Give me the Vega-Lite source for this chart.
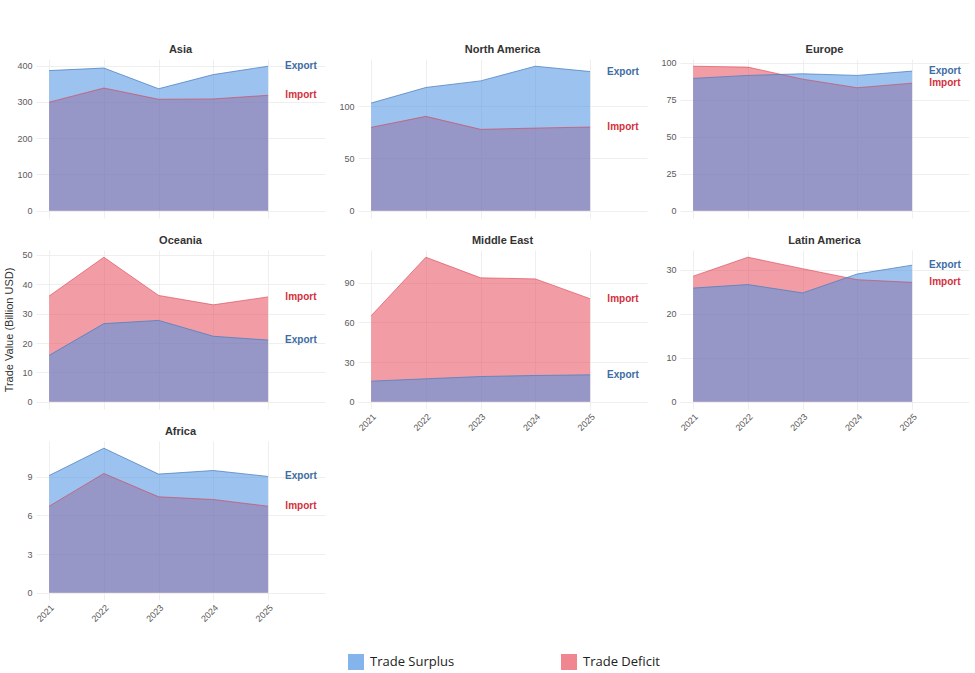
{
  "$schema": "https://vega.github.io/schema/vega-lite/v6.json",
  "padding": {"left": 3, "top": 43, "right": 5, "bottom": 5},
  "background": "white",
  "data": {"values": [
    {"region": "Asia", "year": 2021, "flow": "Export", "value": 386},
    {"region": "Asia", "year": 2022, "flow": "Export", "value": 393},
    {"region": "Asia", "year": 2023, "flow": "Export", "value": 336},
    {"region": "Asia", "year": 2024, "flow": "Export", "value": 375},
    {"region": "Asia", "year": 2025, "flow": "Export", "value": 398},
    {"region": "Asia", "year": 2021, "flow": "Import", "value": 299},
    {"region": "Asia", "year": 2022, "flow": "Import", "value": 338},
    {"region": "Asia", "year": 2023, "flow": "Import", "value": 307},
    {"region": "Asia", "year": 2024, "flow": "Import", "value": 308},
    {"region": "Asia", "year": 2025, "flow": "Import", "value": 318},
    {"region": "North America", "year": 2021, "flow": "Export", "value": 102.9},
    {"region": "North America", "year": 2022, "flow": "Export", "value": 117.8},
    {"region": "North America", "year": 2023, "flow": "Export", "value": 124.1},
    {"region": "North America", "year": 2024, "flow": "Export", "value": 138.1},
    {"region": "North America", "year": 2025, "flow": "Export", "value": 133.0},
    {"region": "North America", "year": 2021, "flow": "Import", "value": 79.7},
    {"region": "North America", "year": 2022, "flow": "Import", "value": 90.2},
    {"region": "North America", "year": 2023, "flow": "Import", "value": 77.8},
    {"region": "North America", "year": 2024, "flow": "Import", "value": 79.0},
    {"region": "North America", "year": 2025, "flow": "Import", "value": 80.0},
    {"region": "Europe", "year": 2021, "flow": "Export", "value": 89.3},
    {"region": "Europe", "year": 2022, "flow": "Export", "value": 91.3},
    {"region": "Europe", "year": 2023, "flow": "Export", "value": 92.4},
    {"region": "Europe", "year": 2024, "flow": "Export", "value": 91.3},
    {"region": "Europe", "year": 2025, "flow": "Export", "value": 94.2},
    {"region": "Europe", "year": 2021, "flow": "Import", "value": 97.5},
    {"region": "Europe", "year": 2022, "flow": "Import", "value": 96.9},
    {"region": "Europe", "year": 2023, "flow": "Import", "value": 88.8},
    {"region": "Europe", "year": 2024, "flow": "Import", "value": 83.0},
    {"region": "Europe", "year": 2025, "flow": "Import", "value": 86.1},
    {"region": "Oceania", "year": 2021, "flow": "Export", "value": 15.8},
    {"region": "Oceania", "year": 2022, "flow": "Export", "value": 26.6},
    {"region": "Oceania", "year": 2023, "flow": "Export", "value": 27.7},
    {"region": "Oceania", "year": 2024, "flow": "Export", "value": 22.3},
    {"region": "Oceania", "year": 2025, "flow": "Export", "value": 21.0},
    {"region": "Oceania", "year": 2021, "flow": "Import", "value": 36.0},
    {"region": "Oceania", "year": 2022, "flow": "Import", "value": 49.2},
    {"region": "Oceania", "year": 2023, "flow": "Import", "value": 36.2},
    {"region": "Oceania", "year": 2024, "flow": "Import", "value": 33.0},
    {"region": "Oceania", "year": 2025, "flow": "Import", "value": 35.7},
    {"region": "Middle East", "year": 2021, "flow": "Export", "value": 15.6},
    {"region": "Middle East", "year": 2022, "flow": "Export", "value": 17.4},
    {"region": "Middle East", "year": 2023, "flow": "Export", "value": 19.1},
    {"region": "Middle East", "year": 2024, "flow": "Export", "value": 19.9},
    {"region": "Middle East", "year": 2025, "flow": "Export", "value": 20.4},
    {"region": "Middle East", "year": 2021, "flow": "Import", "value": 65.1},
    {"region": "Middle East", "year": 2022, "flow": "Import", "value": 109.4},
    {"region": "Middle East", "year": 2023, "flow": "Import", "value": 93.8},
    {"region": "Middle East", "year": 2024, "flow": "Import", "value": 93.0},
    {"region": "Middle East", "year": 2025, "flow": "Import", "value": 78.0},
    {"region": "Latin America", "year": 2021, "flow": "Export", "value": 25.8},
    {"region": "Latin America", "year": 2022, "flow": "Export", "value": 26.6},
    {"region": "Latin America", "year": 2023, "flow": "Export", "value": 24.7},
    {"region": "Latin America", "year": 2024, "flow": "Export", "value": 29.0},
    {"region": "Latin America", "year": 2025, "flow": "Export", "value": 31.0},
    {"region": "Latin America", "year": 2021, "flow": "Import", "value": 28.5},
    {"region": "Latin America", "year": 2022, "flow": "Import", "value": 32.8},
    {"region": "Latin America", "year": 2023, "flow": "Import", "value": 30.2},
    {"region": "Latin America", "year": 2024, "flow": "Import", "value": 27.7},
    {"region": "Latin America", "year": 2025, "flow": "Import", "value": 27.1},
    {"region": "Africa", "year": 2021, "flow": "Export", "value": 9.1},
    {"region": "Africa", "year": 2022, "flow": "Export", "value": 11.22},
    {"region": "Africa", "year": 2023, "flow": "Export", "value": 9.21},
    {"region": "Africa", "year": 2024, "flow": "Export", "value": 9.49},
    {"region": "Africa", "year": 2025, "flow": "Export", "value": 9.03},
    {"region": "Africa", "year": 2021, "flow": "Import", "value": 6.72},
    {"region": "Africa", "year": 2022, "flow": "Import", "value": 9.26},
    {"region": "Africa", "year": 2023, "flow": "Import", "value": 7.45},
    {"region": "Africa", "year": 2024, "flow": "Import", "value": 7.24},
    {"region": "Africa", "year": 2025, "flow": "Import", "value": 6.72}
  ]},
  "columns": 3,
  "bounds": "flush",
  "spacing": {"row": 32, "column": 33},
  "concat": [
    {
      "title": {"text": "Asia"},
      "width": 289, "height": 159,
      "transform": [{"filter": "datum.region === 'Asia'"}],
      "encoding": {
        "x": {"field": "year", "type": "quantitative", "scale": {"domain": [2020.76, 2026.04], "nice": false, "zero": false}, "axis": {"values": [2021, 2022, 2023, 2024, 2025], "labels": false, "title": null}},
        "y": {"field": "value", "type": "quantitative", "stack": null, "scale": {"domain": [-19.9, 417.9], "nice": false, "zero": false}, "axis": {"values": [0, 100, 200, 300, 400], "title": null}}
      },
      "layer": [
        {"transform": [{"filter": "datum.flow === 'Import'"}], "mark": {"type": "area", "opacity": 0.55}, "encoding": {"color": {"field": "flow", "type": "nominal", "scale": {"domain": ["Export", "Import"], "range": ["#4A90E2", "#E74C5C"]}, "legend": {"title": null, "orient": "none", "legendX": 312, "legendY": 595, "direction": "horizontal", "symbolType": "square", "symbolSize": 256, "symbolOpacity": 0.68, "symbolStrokeWidth": 0, "labelFontSize": 13, "labelFont": "Open Sans", "labelColor": "#222222", "labelOffset": 6, "columnPadding": 106, "labelExpr": "datum.label === 'Export' ? 'Trade Surplus' : 'Trade Deficit'"}}}},
        {"transform": [{"filter": "datum.flow === 'Export'"}], "mark": {"type": "area", "opacity": 0.55}, "encoding": {"color": {"field": "flow", "type": "nominal", "scale": {"domain": ["Export", "Import"], "range": ["#4A90E2", "#E74C5C"]}, "legend": {"title": null, "orient": "none", "legendX": 312, "legendY": 595, "direction": "horizontal", "symbolType": "square", "symbolSize": 256, "symbolOpacity": 0.68, "symbolStrokeWidth": 0, "labelFontSize": 13, "labelFont": "Open Sans", "labelColor": "#222222", "labelOffset": 6, "columnPadding": 106, "labelExpr": "datum.label === 'Export' ? 'Trade Surplus' : 'Trade Deficit'"}}}},
        {"transform": [{"filter": "datum.flow === 'Import'"}], "mark": {"type": "line", "stroke": "#d9404f", "strokeWidth": 1, "opacity": 0.6}, "encoding": {}},
        {"transform": [{"filter": "datum.flow === 'Export'"}], "mark": {"type": "line", "stroke": "#4a7fbf", "strokeWidth": 1, "opacity": 0.75}, "encoding": {}},
        {"transform": [{"filter": "datum.year === 2025"}], "mark": {"type": "text", "fontWeight": "bold", "fontSize": 10, "align": "center", "baseline": "middle"}, "encoding": {"x": {"datum": 2025.6, "type": "quantitative"}, "text": {"field": "flow"}, "color": {"condition": {"test": "datum.flow === 'Export'", "value": "#3d6ba3"}, "value": "#d32f3c"}}}
      ]
    },
    {
      "title": {"text": "North America"},
      "width": 289, "height": 159,
      "transform": [{"filter": "datum.region === 'North America'"}],
      "encoding": {
        "x": {"field": "year", "type": "quantitative", "scale": {"domain": [2020.76, 2026.04], "nice": false, "zero": false}, "axis": {"values": [2021, 2022, 2023, 2024, 2025], "labels": false, "title": null}},
        "y": {"field": "value", "type": "quantitative", "stack": null, "scale": {"domain": [-6.9, 145.0], "nice": false, "zero": false}, "axis": {"values": [0, 50, 100], "title": null}}
      },
      "layer": [
        {"transform": [{"filter": "datum.flow === 'Import'"}], "mark": {"type": "area", "opacity": 0.55}, "encoding": {"color": {"field": "flow", "type": "nominal", "scale": {"domain": ["Export", "Import"], "range": ["#4A90E2", "#E74C5C"]}, "legend": {"title": null, "orient": "none", "legendX": 312, "legendY": 595, "direction": "horizontal", "symbolType": "square", "symbolSize": 256, "symbolOpacity": 0.68, "symbolStrokeWidth": 0, "labelFontSize": 13, "labelFont": "Open Sans", "labelColor": "#222222", "labelOffset": 6, "columnPadding": 106, "labelExpr": "datum.label === 'Export' ? 'Trade Surplus' : 'Trade Deficit'"}}}},
        {"transform": [{"filter": "datum.flow === 'Export'"}], "mark": {"type": "area", "opacity": 0.55}, "encoding": {"color": {"field": "flow", "type": "nominal", "scale": {"domain": ["Export", "Import"], "range": ["#4A90E2", "#E74C5C"]}, "legend": {"title": null, "orient": "none", "legendX": 312, "legendY": 595, "direction": "horizontal", "symbolType": "square", "symbolSize": 256, "symbolOpacity": 0.68, "symbolStrokeWidth": 0, "labelFontSize": 13, "labelFont": "Open Sans", "labelColor": "#222222", "labelOffset": 6, "columnPadding": 106, "labelExpr": "datum.label === 'Export' ? 'Trade Surplus' : 'Trade Deficit'"}}}},
        {"transform": [{"filter": "datum.flow === 'Import'"}], "mark": {"type": "line", "stroke": "#d9404f", "strokeWidth": 1, "opacity": 0.6}, "encoding": {}},
        {"transform": [{"filter": "datum.flow === 'Export'"}], "mark": {"type": "line", "stroke": "#4a7fbf", "strokeWidth": 1, "opacity": 0.75}, "encoding": {}},
        {"transform": [{"filter": "datum.year === 2025"}], "mark": {"type": "text", "fontWeight": "bold", "fontSize": 10, "align": "center", "baseline": "middle"}, "encoding": {"x": {"datum": 2025.6, "type": "quantitative"}, "text": {"field": "flow"}, "color": {"condition": {"test": "datum.flow === 'Export'", "value": "#3d6ba3"}, "value": "#d32f3c"}}}
      ]
    },
    {
      "title": {"text": "Europe"},
      "width": 289, "height": 159,
      "transform": [{"filter": "datum.region === 'Europe'"}],
      "encoding": {
        "x": {"field": "year", "type": "quantitative", "scale": {"domain": [2020.76, 2026.04], "nice": false, "zero": false}, "axis": {"values": [2021, 2022, 2023, 2024, 2025], "labels": false, "title": null}},
        "y": {"field": "value", "type": "quantitative", "stack": null, "scale": {"domain": [-4.875, 102.375], "nice": false, "zero": false}, "axis": {"values": [0, 25, 50, 75, 100], "title": null}}
      },
      "layer": [
        {"transform": [{"filter": "datum.flow === 'Import'"}], "mark": {"type": "area", "opacity": 0.55}, "encoding": {"color": {"field": "flow", "type": "nominal", "scale": {"domain": ["Export", "Import"], "range": ["#4A90E2", "#E74C5C"]}, "legend": {"title": null, "orient": "none", "legendX": 312, "legendY": 595, "direction": "horizontal", "symbolType": "square", "symbolSize": 256, "symbolOpacity": 0.68, "symbolStrokeWidth": 0, "labelFontSize": 13, "labelFont": "Open Sans", "labelColor": "#222222", "labelOffset": 6, "columnPadding": 106, "labelExpr": "datum.label === 'Export' ? 'Trade Surplus' : 'Trade Deficit'"}}}},
        {"transform": [{"filter": "datum.flow === 'Export'"}], "mark": {"type": "area", "opacity": 0.55}, "encoding": {"color": {"field": "flow", "type": "nominal", "scale": {"domain": ["Export", "Import"], "range": ["#4A90E2", "#E74C5C"]}, "legend": {"title": null, "orient": "none", "legendX": 312, "legendY": 595, "direction": "horizontal", "symbolType": "square", "symbolSize": 256, "symbolOpacity": 0.68, "symbolStrokeWidth": 0, "labelFontSize": 13, "labelFont": "Open Sans", "labelColor": "#222222", "labelOffset": 6, "columnPadding": 106, "labelExpr": "datum.label === 'Export' ? 'Trade Surplus' : 'Trade Deficit'"}}}},
        {"transform": [{"filter": "datum.flow === 'Import'"}], "mark": {"type": "line", "stroke": "#d9404f", "strokeWidth": 1, "opacity": 0.6}, "encoding": {}},
        {"transform": [{"filter": "datum.flow === 'Export'"}], "mark": {"type": "line", "stroke": "#4a7fbf", "strokeWidth": 1, "opacity": 0.75}, "encoding": {}},
        {"transform": [{"filter": "datum.year === 2025"}], "mark": {"type": "text", "fontWeight": "bold", "fontSize": 10, "align": "center", "baseline": "middle"}, "encoding": {"x": {"datum": 2025.6, "type": "quantitative"}, "text": {"field": "flow"}, "color": {"condition": {"test": "datum.flow === 'Export'", "value": "#3d6ba3"}, "value": "#d32f3c"}}}
      ]
    },
    {
      "title": {"text": "Oceania"},
      "width": 289, "height": 159,
      "transform": [{"filter": "datum.region === 'Oceania'"}],
      "encoding": {
        "x": {"field": "year", "type": "quantitative", "scale": {"domain": [2020.76, 2026.04], "nice": false, "zero": false}, "axis": {"values": [2021, 2022, 2023, 2024, 2025], "labels": false, "title": null}},
        "y": {"field": "value", "type": "quantitative", "stack": null, "scale": {"domain": [-2.46, 51.66], "nice": false, "zero": false}, "axis": {"values": [0, 10, 20, 30, 40, 50], "title": "Trade Value (Billion USD)", "titleFontSize": 11, "titleFontWeight": "normal", "titleColor": "#333333", "titlePadding": 7}}
      },
      "layer": [
        {"transform": [{"filter": "datum.flow === 'Import'"}], "mark": {"type": "area", "opacity": 0.55}, "encoding": {"color": {"field": "flow", "type": "nominal", "scale": {"domain": ["Export", "Import"], "range": ["#4A90E2", "#E74C5C"]}, "legend": {"title": null, "orient": "none", "legendX": 312, "legendY": 595, "direction": "horizontal", "symbolType": "square", "symbolSize": 256, "symbolOpacity": 0.68, "symbolStrokeWidth": 0, "labelFontSize": 13, "labelFont": "Open Sans", "labelColor": "#222222", "labelOffset": 6, "columnPadding": 106, "labelExpr": "datum.label === 'Export' ? 'Trade Surplus' : 'Trade Deficit'"}}}},
        {"transform": [{"filter": "datum.flow === 'Export'"}], "mark": {"type": "area", "opacity": 0.55}, "encoding": {"color": {"field": "flow", "type": "nominal", "scale": {"domain": ["Export", "Import"], "range": ["#4A90E2", "#E74C5C"]}, "legend": {"title": null, "orient": "none", "legendX": 312, "legendY": 595, "direction": "horizontal", "symbolType": "square", "symbolSize": 256, "symbolOpacity": 0.68, "symbolStrokeWidth": 0, "labelFontSize": 13, "labelFont": "Open Sans", "labelColor": "#222222", "labelOffset": 6, "columnPadding": 106, "labelExpr": "datum.label === 'Export' ? 'Trade Surplus' : 'Trade Deficit'"}}}},
        {"transform": [{"filter": "datum.flow === 'Import'"}], "mark": {"type": "line", "stroke": "#d9404f", "strokeWidth": 1, "opacity": 0.6}, "encoding": {}},
        {"transform": [{"filter": "datum.flow === 'Export'"}], "mark": {"type": "line", "stroke": "#4a7fbf", "strokeWidth": 1, "opacity": 0.75}, "encoding": {}},
        {"transform": [{"filter": "datum.year === 2025"}], "mark": {"type": "text", "fontWeight": "bold", "fontSize": 10, "align": "center", "baseline": "middle"}, "encoding": {"x": {"datum": 2025.6, "type": "quantitative"}, "text": {"field": "flow"}, "color": {"condition": {"test": "datum.flow === 'Export'", "value": "#3d6ba3"}, "value": "#d32f3c"}}}
      ]
    },
    {
      "title": {"text": "Middle East"},
      "width": 289, "height": 159,
      "transform": [{"filter": "datum.region === 'Middle East'"}],
      "encoding": {
        "x": {"field": "year", "type": "quantitative", "scale": {"domain": [2020.76, 2026.04], "nice": false, "zero": false}, "axis": {"values": [2021, 2022, 2023, 2024, 2025], "format": "d", "labelAngle": -45, "labelPadding": 3, "labelFlush": false, "labelOverlap": false, "title": null}},
        "y": {"field": "value", "type": "quantitative", "stack": null, "scale": {"domain": [-5.47, 114.87], "nice": false, "zero": false}, "axis": {"values": [0, 30, 60, 90], "title": null}}
      },
      "layer": [
        {"transform": [{"filter": "datum.flow === 'Import'"}], "mark": {"type": "area", "opacity": 0.55}, "encoding": {"color": {"field": "flow", "type": "nominal", "scale": {"domain": ["Export", "Import"], "range": ["#4A90E2", "#E74C5C"]}, "legend": {"title": null, "orient": "none", "legendX": 312, "legendY": 595, "direction": "horizontal", "symbolType": "square", "symbolSize": 256, "symbolOpacity": 0.68, "symbolStrokeWidth": 0, "labelFontSize": 13, "labelFont": "Open Sans", "labelColor": "#222222", "labelOffset": 6, "columnPadding": 106, "labelExpr": "datum.label === 'Export' ? 'Trade Surplus' : 'Trade Deficit'"}}}},
        {"transform": [{"filter": "datum.flow === 'Export'"}], "mark": {"type": "area", "opacity": 0.55}, "encoding": {"color": {"field": "flow", "type": "nominal", "scale": {"domain": ["Export", "Import"], "range": ["#4A90E2", "#E74C5C"]}, "legend": {"title": null, "orient": "none", "legendX": 312, "legendY": 595, "direction": "horizontal", "symbolType": "square", "symbolSize": 256, "symbolOpacity": 0.68, "symbolStrokeWidth": 0, "labelFontSize": 13, "labelFont": "Open Sans", "labelColor": "#222222", "labelOffset": 6, "columnPadding": 106, "labelExpr": "datum.label === 'Export' ? 'Trade Surplus' : 'Trade Deficit'"}}}},
        {"transform": [{"filter": "datum.flow === 'Import'"}], "mark": {"type": "line", "stroke": "#d9404f", "strokeWidth": 1, "opacity": 0.6}, "encoding": {}},
        {"transform": [{"filter": "datum.flow === 'Export'"}], "mark": {"type": "line", "stroke": "#4a7fbf", "strokeWidth": 1, "opacity": 0.75}, "encoding": {}},
        {"transform": [{"filter": "datum.year === 2025"}], "mark": {"type": "text", "fontWeight": "bold", "fontSize": 10, "align": "center", "baseline": "middle"}, "encoding": {"x": {"datum": 2025.6, "type": "quantitative"}, "text": {"field": "flow"}, "color": {"condition": {"test": "datum.flow === 'Export'", "value": "#3d6ba3"}, "value": "#d32f3c"}}}
      ]
    },
    {
      "title": {"text": "Latin America"},
      "width": 289, "height": 159,
      "transform": [{"filter": "datum.region === 'Latin America'"}],
      "encoding": {
        "x": {"field": "year", "type": "quantitative", "scale": {"domain": [2020.76, 2026.04], "nice": false, "zero": false}, "axis": {"values": [2021, 2022, 2023, 2024, 2025], "format": "d", "labelAngle": -45, "labelPadding": 3, "labelFlush": false, "labelOverlap": false, "title": null}},
        "y": {"field": "value", "type": "quantitative", "stack": null, "scale": {"domain": [-1.64, 34.44], "nice": false, "zero": false}, "axis": {"values": [0, 10, 20, 30], "title": null}}
      },
      "layer": [
        {"transform": [{"filter": "datum.flow === 'Import'"}], "mark": {"type": "area", "opacity": 0.55}, "encoding": {"color": {"field": "flow", "type": "nominal", "scale": {"domain": ["Export", "Import"], "range": ["#4A90E2", "#E74C5C"]}, "legend": {"title": null, "orient": "none", "legendX": 312, "legendY": 595, "direction": "horizontal", "symbolType": "square", "symbolSize": 256, "symbolOpacity": 0.68, "symbolStrokeWidth": 0, "labelFontSize": 13, "labelFont": "Open Sans", "labelColor": "#222222", "labelOffset": 6, "columnPadding": 106, "labelExpr": "datum.label === 'Export' ? 'Trade Surplus' : 'Trade Deficit'"}}}},
        {"transform": [{"filter": "datum.flow === 'Export'"}], "mark": {"type": "area", "opacity": 0.55}, "encoding": {"color": {"field": "flow", "type": "nominal", "scale": {"domain": ["Export", "Import"], "range": ["#4A90E2", "#E74C5C"]}, "legend": {"title": null, "orient": "none", "legendX": 312, "legendY": 595, "direction": "horizontal", "symbolType": "square", "symbolSize": 256, "symbolOpacity": 0.68, "symbolStrokeWidth": 0, "labelFontSize": 13, "labelFont": "Open Sans", "labelColor": "#222222", "labelOffset": 6, "columnPadding": 106, "labelExpr": "datum.label === 'Export' ? 'Trade Surplus' : 'Trade Deficit'"}}}},
        {"transform": [{"filter": "datum.flow === 'Import'"}], "mark": {"type": "line", "stroke": "#d9404f", "strokeWidth": 1, "opacity": 0.6}, "encoding": {}},
        {"transform": [{"filter": "datum.flow === 'Export'"}], "mark": {"type": "line", "stroke": "#4a7fbf", "strokeWidth": 1, "opacity": 0.75}, "encoding": {}},
        {"transform": [{"filter": "datum.year === 2025"}], "mark": {"type": "text", "fontWeight": "bold", "fontSize": 10, "align": "center", "baseline": "middle"}, "encoding": {"x": {"datum": 2025.6, "type": "quantitative"}, "text": {"field": "flow"}, "color": {"condition": {"test": "datum.flow === 'Export'", "value": "#3d6ba3"}, "value": "#d32f3c"}}}
      ]
    },
    {
      "title": {"text": "Africa"},
      "width": 289, "height": 159,
      "transform": [{"filter": "datum.region === 'Africa'"}],
      "encoding": {
        "x": {"field": "year", "type": "quantitative", "scale": {"domain": [2020.76, 2026.04], "nice": false, "zero": false}, "axis": {"values": [2021, 2022, 2023, 2024, 2025], "format": "d", "labelAngle": -45, "labelPadding": 3, "labelFlush": false, "labelOverlap": false, "title": null}},
        "y": {"field": "value", "type": "quantitative", "stack": null, "scale": {"domain": [-0.561, 11.781], "nice": false, "zero": false}, "axis": {"values": [0, 3, 6, 9], "title": null}}
      },
      "layer": [
        {"transform": [{"filter": "datum.flow === 'Import'"}], "mark": {"type": "area", "opacity": 0.55}, "encoding": {"color": {"field": "flow", "type": "nominal", "scale": {"domain": ["Export", "Import"], "range": ["#4A90E2", "#E74C5C"]}, "legend": {"title": null, "orient": "none", "legendX": 312, "legendY": 595, "direction": "horizontal", "symbolType": "square", "symbolSize": 256, "symbolOpacity": 0.68, "symbolStrokeWidth": 0, "labelFontSize": 13, "labelFont": "Open Sans", "labelColor": "#222222", "labelOffset": 6, "columnPadding": 106, "labelExpr": "datum.label === 'Export' ? 'Trade Surplus' : 'Trade Deficit'"}}}},
        {"transform": [{"filter": "datum.flow === 'Export'"}], "mark": {"type": "area", "opacity": 0.55}, "encoding": {"color": {"field": "flow", "type": "nominal", "scale": {"domain": ["Export", "Import"], "range": ["#4A90E2", "#E74C5C"]}, "legend": {"title": null, "orient": "none", "legendX": 312, "legendY": 595, "direction": "horizontal", "symbolType": "square", "symbolSize": 256, "symbolOpacity": 0.68, "symbolStrokeWidth": 0, "labelFontSize": 13, "labelFont": "Open Sans", "labelColor": "#222222", "labelOffset": 6, "columnPadding": 106, "labelExpr": "datum.label === 'Export' ? 'Trade Surplus' : 'Trade Deficit'"}}}},
        {"transform": [{"filter": "datum.flow === 'Import'"}], "mark": {"type": "line", "stroke": "#d9404f", "strokeWidth": 1, "opacity": 0.6}, "encoding": {}},
        {"transform": [{"filter": "datum.flow === 'Export'"}], "mark": {"type": "line", "stroke": "#4a7fbf", "strokeWidth": 1, "opacity": 0.75}, "encoding": {}},
        {"transform": [{"filter": "datum.year === 2025"}], "mark": {"type": "text", "fontWeight": "bold", "fontSize": 10, "align": "center", "baseline": "middle"}, "encoding": {"x": {"datum": 2025.6, "type": "quantitative"}, "text": {"field": "flow"}, "color": {"condition": {"test": "datum.flow === 'Export'", "value": "#3d6ba3"}, "value": "#d32f3c"}}}
      ]
    }
  ],
  "resolve": {"scale": {"color": "shared"}, "legend": {"color": "shared"}},
  "config": {
    "font": "Liberation Sans",
    "view": {"stroke": null},
    "axis": {"domain": false, "ticks": false, "gridColor": "#ebebeb", "gridWidth": 0.8, "labelColor": "#5a5a5a", "labelFontSize": 9, "labelPadding": 4},
    "title": {"fontSize": 11, "fontWeight": "bold", "color": "#333333", "offset": 4, "anchor": "middle"},
    "legend": {"padding": 0}
  }
}
